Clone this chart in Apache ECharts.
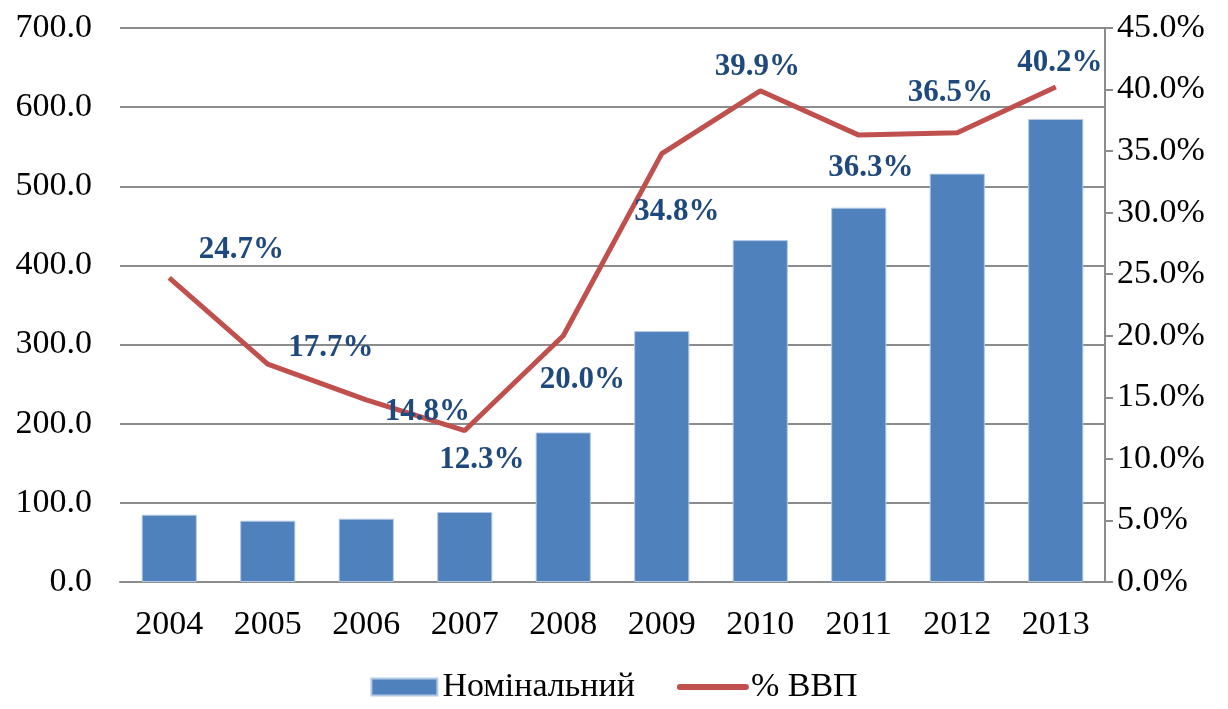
<!DOCTYPE html>
<html>
<head>
<meta charset="utf-8">
<script src="https://cdn.jsdelivr.net/npm/echarts@6/dist/echarts.min.js"></script>
<style>
  html, body { margin: 0; padding: 0; background: #fff; }
  #chart { width: 1228px; height: 709px; }
</style>
</head>
<body>
<div id="chart"></div>
<script>
/* Номінальний обсяг та % ВВП */
var years = ['2004', '2005', '2006', '2007', '2008', '2009', '2010', '2011', '2012', '2013'];
var nominal = [85, 77.5, 80, 88.5, 189, 317, 432, 473, 516, 585];
var gdpShare = [24.7, 17.7, 14.8, 12.3, 20.0, 34.8, 39.9, 36.3, 36.5, 40.2];
// зсув підписів відносно точки лінії
var labelShift = [[72, -28], [63, -16], [61, 12], [17, 29], [19, 44], [15, 58], [-3, -24], [12, 33], [-7, -40], [4, -24]];

var font = 'Liberation Serif, Times New Roman, serif';
var gridColor = '#8c8c8c';

var chart = echarts.init(document.getElementById('chart'));

var lineData = [];
for (var i = 0; i < gdpShare.length; i++) {
  lineData.push({
    value: gdpShare[i],
    label: { offset: labelShift[i] }
  });
}

chart.setOption({
  animation: false,
  grid: { left: 120, right: 123, top: 28, bottom: 127 },
  legend: {
    bottom: 0,
    left: 'center',
    itemWidth: 66,
    itemHeight: 17,
    itemGap: 42,
    textStyle: { fontFamily: font, fontSize: 34, color: '#000' },
    data: [
      { name: 'Номінальний', icon: 'rect' },
      { name: '% ВВП', itemStyle: { opacity: 0 }, lineStyle: { width: 6, cap: 'round' } }
    ]
  },
  xAxis: {
    type: 'category',
    data: years,
    axisLine: { lineStyle: { color: gridColor, width: 2 } },
    axisTick: { show: false },
    axisLabel: { fontFamily: font, fontSize: 34, color: '#000', margin: 26 }
  },
  yAxis: [{
    type: 'value',
    min: 0, max: 700, interval: 100,
    axisLine: { show: false },
    axisTick: { show: false },
    splitLine: { lineStyle: { color: gridColor, width: 2 } },
    axisLabel: {
      fontFamily: font, fontSize: 34, color: '#000', margin: 28,
      formatter: function(v) { return v.toFixed(1); }
    }
  }, {
    type: 'value',
    min: 0, max: 45, interval: 5,
    axisLine: { show: true, lineStyle: { color: gridColor, width: 2 } },
    axisTick: { show: true, length: 8, lineStyle: { color: gridColor, width: 2 } },
    splitLine: { show: false },
    axisLabel: {
      fontFamily: font, fontSize: 34, color: '#000', margin: 12,
      formatter: function(v) { return v.toFixed(1) + '%'; }
    }
  }],
  series: [{
    name: 'Номінальний',
    type: 'bar',
    data: nominal,
    barWidth: '56%',
    itemStyle: { color: '#4f81bd', borderColor: '#b4c9e3', borderWidth: 1 }
  }, {
    name: '% ВВП',
    type: 'line',
    yAxisIndex: 1,
    data: lineData,
    symbol: 'circle',
    symbolSize: 1,
    itemStyle: { color: '#c0504d' },
    lineStyle: { color: '#c0504d', width: 5 },
    label: {
      show: true,
      position: 'inside',
      fontFamily: font,
      fontSize: 31,
      fontWeight: 'bold',
      color: '#1f497d',
      formatter: function(p) { return p.value.toFixed(1) + '%'; }
    }
  }]
});
</script>
</body>
</html>
